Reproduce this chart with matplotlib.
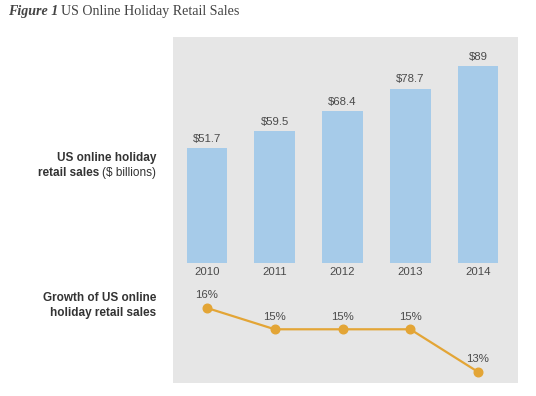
import matplotlib
matplotlib.use("Agg")
import matplotlib.pyplot as plt
from matplotlib.patches import Rectangle

years = ["2010", "2011", "2012", "2013", "2014"]
sales = [51.7, 59.5, 68.4, 78.7, 89]
sales_labels = ["$51.7", "$59.5", "$68.4", "$78.7", "$89"]
growth = [16, 15, 15, 15, 13]
growth_labels = ["16%", "15%", "15%", "15%", "13%"]

W, H = 536, 396
fig = plt.figure(figsize=(W / 100, H / 100), dpi=100)
fig.patch.set_facecolor("white")

def fx(px):
    return px / W

def fy(py):
    return 1 - py / H

panel_l, panel_r, panel_t, panel_b = 173, 518, 37, 383
base = 263
fig.patches.append(Rectangle((fx(panel_l), fy(panel_b)), fx(panel_r - panel_l), (panel_b - panel_t) / H,
                             transform=fig.transFigure, facecolor="#e6e6e6", edgecolor="none", zorder=-5))

xlim = (-0.502, 4.59)
x = list(range(len(years)))
txt_col = "#4a4a4a"

ax = fig.add_axes([fx(panel_l), fy(base), fx(panel_r - panel_l), (base - panel_t) / H])
ax.set_facecolor("none")
ax.bar(x, sales, width=0.6, color="#a6cbe9", zorder=2)
ax.set_xlim(*xlim)
ax.set_ylim(0, (base - panel_t) / 2.217)
for xi, v, lab in zip(x, sales, sales_labels):
    ax.annotate(lab, (xi, v), xytext=(0, 3), textcoords="offset points", ha="center", va="bottom",
                fontsize=8.2, color=txt_col, family="Liberation Sans")
ax.set_xticks(x)
ax.set_xticklabels(years, fontsize=8.2, color=txt_col, family="Liberation Sans")
ax.tick_params(axis="x", length=0, pad=3)
ax.set_yticks([])
for s in ax.spines.values():
    s.set_visible(False)

ax2 = fig.add_axes([fx(panel_l), fy(panel_b), fx(panel_r - panel_l), (panel_b - base) / H])
ax2.set_facecolor("none")
ax2.plot(x, growth, color="#e3a536", lw=1.6, marker="o", ms=6.2, zorder=3)
ax2.set_xlim(*xlim)
ax2.set_ylim(12.48, 18.11)
for xi, v, lab in zip(x, growth, growth_labels):
    ax2.annotate(lab, (xi, v), xytext=(0, 5.5), textcoords="offset points", ha="center", va="bottom",
                 fontsize=8.2, color=txt_col, family="Liberation Sans")
ax2.set_xticks([])
ax2.set_yticks([])
for s in ax2.spines.values():
    s.set_visible(False)

# Title
t1 = fig.text(fx(8), fy(15), "Figure 1", fontsize=10.1, fontstyle="italic", fontweight="bold",
              family="Liberation Serif", color="#444444", va="baseline")
fig.canvas.draw()
r = fig.canvas.get_renderer()
bb = t1.get_window_extent(r)
fig.text(bb.x1 / W + fx(3), fy(15), "US Online Holiday Retail Sales", fontsize=10.1,
         family="Liberation Serif", color="#444444", va="baseline")

# Left labels
lab_kw = dict(fontsize=8.5, family="Liberation Sans", color="#333333", va="baseline", ha="right")
rx = fx(156)
fig.text(rx, fy(161), "US online holiday", fontweight="bold", **lab_kw)
t_reg = fig.text(rx, fy(176), "($ billions)", **lab_kw)
fig.canvas.draw()
bb = t_reg.get_window_extent(r)
fig.text(bb.x0 / W - fx(2.5), fy(176), "retail sales", fontweight="bold", **lab_kw)
fig.text(rx, fy(301), "Growth of US online", fontweight="bold", **lab_kw)
fig.text(rx, fy(316), "holiday retail sales", fontweight="bold", **lab_kw)

fig.savefig("out.png", dpi=100)
